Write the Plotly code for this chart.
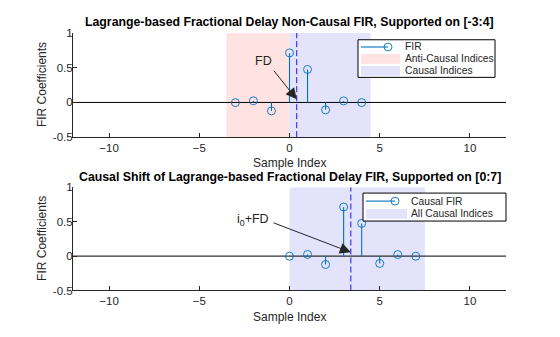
import plotly.graph_objects as go

# ---------------- data ----------------
n_noncausal = [-3, -2, -1, 0, 1, 2, 3, 4]
n_causal = [0, 1, 2, 3, 4, 5, 6, 7]
fir_coeffs = [-0.002, 0.024, -0.122, 0.713, 0.475, -0.107, 0.022, -0.002]
FD = 0.4
i0 = 3
anti_causal_span = [-3.5, 0]
causal_span = [0, 4.5]
all_causal_span = [0, 7.5]
x_range = [-12, 12]
y_range = [-0.5, 1]
x_ticks = [-10, -5, 0, 5, 10]
y_ticks = [-0.5, 0, 0.5, 1]
y_ticktext = ["-0.5", "0", "0.5", "1"]

W, H = 560, 337
STEM = "#0072BD"
PINK = "#FFE3E3"
LAV = "#E3E3FC"
FONT = "Liberation Sans, Arial, sans-serif"
TXT = "#262626"

# axes pixel geometry
xl, xr = 73, 506
top_y = (28, 136)
bot_y = (188, 295)


def ydom(p):
    return [(H - p[1]) / H, (H - p[0]) / H]


def px(x):
    return x / W


def py(y):
    return (H - y) / H


fig = go.Figure()


def rect_trace(span, color, xa, ya):
    xs = [span[0], span[1], span[1], span[0], span[0]]
    ys = [y_range[0], y_range[0], y_range[1], y_range[1], y_range[0]]
    return go.Scatter(x=xs, y=ys, fill="toself", fillcolor=color, mode="lines",
                      line=dict(width=0, color=color), showlegend=False,
                      xaxis=xa, yaxis=ya, hoverinfo="skip")


def add_panel(n, h, fd_pos, xa, ya, regions):
    for (span, color) in regions:
        fig.add_trace(rect_trace(span, color, xa, ya))
    # baseline
    fig.add_trace(go.Scatter(x=x_range, y=[0, 0], mode="lines", line=dict(color="black", width=1),
                             showlegend=False, xaxis=xa, yaxis=ya, hoverinfo="skip"))
    # dashed FD line
    fig.add_trace(go.Scatter(x=[fd_pos, fd_pos], y=y_range, mode="lines",
                             line=dict(color="#1A1AE6", width=1, dash="6px,3px"),
                             showlegend=False, xaxis=xa, yaxis=ya, hoverinfo="skip"))
    # stems
    sx, sy = [], []
    for xi, yi in zip(n, h):
        sx += [xi, xi, None]
        sy += [0, yi, None]
    fig.add_trace(go.Scatter(x=sx, y=sy, mode="lines", line=dict(color=STEM, width=1.1),
                             showlegend=False, xaxis=xa, yaxis=ya, hoverinfo="skip"))
    fig.add_trace(go.Scatter(x=n, y=h, mode="markers",
                             marker=dict(symbol="circle-open", size=8, color=STEM, line=dict(width=0.9)),
                             showlegend=False, xaxis=xa, yaxis=ya))


add_panel(n_noncausal, fir_coeffs, FD, "x", "y",
          [(anti_causal_span, PINK), (causal_span, LAV)])
add_panel(n_causal, fir_coeffs, i0 + FD, "x2", "y2",
          [(all_causal_span, LAV)])

axis_common = dict(range=x_range, tickvals=x_ticks, ticks="inside", ticklen=4, tickcolor=TXT,
                   showline=True, linecolor=TXT, linewidth=1, showgrid=False, zeroline=False,
                   tickfont=dict(family=FONT, size=11.5, color=TXT), mirror=False)
yaxis_common = dict(range=y_range, tickvals=y_ticks, ticktext=y_ticktext, ticks="inside", ticklen=4,
                    tickcolor=TXT, showline=True, linecolor=TXT, linewidth=1, showgrid=False,
                    zeroline=False, tickfont=dict(family=FONT, size=11.5, color=TXT),
                    ticklabelstandoff=-3)

xdom = [xl / W, xr / W]
fig.update_layout(
    width=W, height=H, margin=dict(l=0, r=0, t=0, b=0),
    paper_bgcolor="white", plot_bgcolor="white",
    font=dict(family=FONT, size=10, color=TXT),
    xaxis=dict(domain=xdom, anchor="y", **axis_common),
    yaxis=dict(domain=ydom(top_y), anchor="x", **yaxis_common),
    xaxis2=dict(domain=xdom, anchor="y2", **axis_common),
    yaxis2=dict(domain=ydom(bot_y), anchor="x2", **yaxis_common),
    showlegend=False,
)

ann = []
shapes = []

titles = [
    ("Lagrange-based Fractional Delay Non-Causal FIR, Supported on [-3:4]", 17),
    ("Causal Shift of Lagrange-based Fractional Delay FIR, Supported on [0:7]", 177),
]
for t, ypx in titles:
    ann.append(dict(text="<b>" + t + "</b>", x=px((xl + xr) / 2), y=py(ypx), xref="paper", yref="paper",
                    showarrow=False, font=dict(family=FONT, size=12.3, color="black"),
                    xanchor="center", yanchor="middle"))
for ypx in (163, 322):
    ann.append(dict(text="Sample Index", x=px((xl + xr) / 2), y=py(ypx), xref="paper", yref="paper",
                    showarrow=False, font=dict(family=FONT, size=12, color=TXT),
                    xanchor="center", yanchor="middle"))
for p in (top_y, bot_y):
    ann.append(dict(text="FIR Coefficients", x=px(42), y=py((p[0] + p[1]) / 2), xref="paper",
                    yref="paper", showarrow=False, textangle=-90,
                    font=dict(family=FONT, size=12, color=TXT), xanchor="center", yanchor="middle"))

# text arrows
ann.append(dict(x=FD, y=0.045, ax=-1.03, ay=0.51, xref="x", yref="y", axref="x", ayref="y",
                text=" ", showarrow=True, arrowhead=2, arrowsize=2.2, arrowwidth=1, arrowcolor=TXT,
                standoff=0, startstandoff=0))
ann.append(dict(x=-1.45, y=0.595, xref="x", yref="y", text="FD", showarrow=False,
                font=dict(family=FONT, size=12.5, color=TXT)))
ann.append(dict(x=i0 + FD, y=0.055, ax=-1.05, ay=0.5, xref="x2", yref="y2", axref="x2", ayref="y2",
                text=" ", showarrow=True, arrowhead=2, arrowsize=2.2, arrowwidth=1, arrowcolor=TXT,
                standoff=0, startstandoff=0))
ann.append(dict(x=-2.0, y=0.52, xref="x2", yref="y2", text="i<sub>0</sub>+FD", showarrow=False,
                font=dict(family=FONT, size=12.5, color=TXT)))


# -------- hand-built legends (MATLAB style) --------
def legend_box(x0, x1, y0, y1, entries, line_x0, line_x1, sw_x1, text_x):
    shapes.append(dict(type="rect", xref="paper", yref="paper", x0=px(x0), x1=px(x1), y0=py(y1), y1=py(y0),
                       line=dict(color="black", width=1), fillcolor="white", layer="above"))
    for kind, label, color, yc in entries:
        if kind == "stem":
            shapes.append(dict(type="line", xref="paper", yref="paper", x0=px(line_x0), x1=px(line_x1),
                               y0=py(yc), y1=py(yc), line=dict(color=STEM, width=1.1), layer="above"))
            r = 4
            shapes.append(dict(type="circle", xref="paper", yref="paper", x0=px(line_x1 - r),
                               x1=px(line_x1 + r), y0=py(yc + r), y1=py(yc - r),
                               line=dict(color=STEM, width=0.9), fillcolor="rgba(0,0,0,0)", layer="above"))
        else:
            shapes.append(dict(type="rect", xref="paper", yref="paper", x0=px(line_x0), x1=px(sw_x1),
                               y0=py(yc + 5), y1=py(yc - 5), line=dict(width=0), fillcolor=color,
                               layer="above"))
        ann.append(dict(text=label, x=px(text_x), y=py(yc), xref="paper", yref="paper", showarrow=False,
                        xanchor="left", yanchor="middle", font=dict(family=FONT, size=10.3, color=TXT)))


legend_box(358, 495, 35, 74,
           [("stem", "FIR", None, 42.5), ("fill", "Anti-Causal Indices", PINK, 54.8),
            ("fill", "Causal Indices", LAV, 67.2)],
           361, 388, 400, 403)
legend_box(363, 506, 194, 223,
           [("stem", "Causal FIR", None, 202.3), ("fill", "All Causal Indices", LAV, 215.5)],
           366, 395, 407, 409)

fig.update_layout(annotations=ann, shapes=shapes)

fig.write_html("out.html")
